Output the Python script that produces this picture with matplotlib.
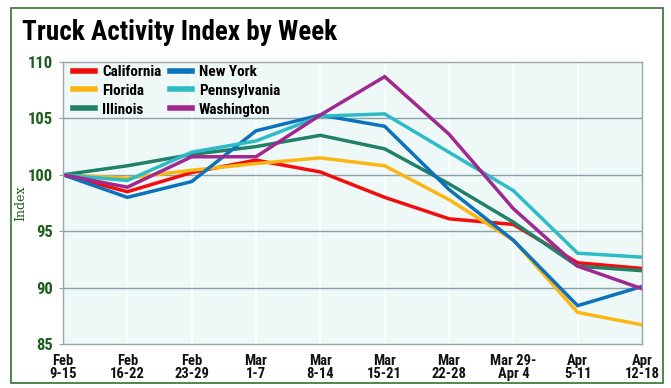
import matplotlib
matplotlib.use('Agg')
import matplotlib.pyplot as plt
from matplotlib.patches import Rectangle

weeks = ['Feb\n9-15', 'Feb\n16-22', 'Feb\n23-29', 'Mar\n1-7', 'Mar\n8-14',
         'Mar\n15-21', 'Mar\n22-28', 'Mar 29-\nApr 4', 'Apr\n5-11', 'Apr\n12-18']

states = ['California', 'Florida', 'Illinois', 'New York', 'Pennsylvania', 'Washington']
colors = ['#f20d0d', '#fbb614', '#218068', '#0b72bb', '#2dbcc6', '#a0288f']

california = [100, 98.5, 100.2, 101.3, 100.25, 98.0, 96.1, 95.6, 92.2, 91.7]
florida = [100, 99.7, 100.4, 101.0, 101.5, 100.8, 97.8, 94.2, 87.8, 86.7]
illinois = [100, 100.8, 101.8, 102.5, 103.5, 102.3, 99.2, 95.8, 91.9, 91.5]
new_york = [100, 98.0, 99.4, 103.9, 105.3, 104.3, 98.7, 94.2, 88.4, 90.1]
pennsylvania = [100, 99.5, 102.0, 103.0, 105.2, 105.4, 102.0, 98.6, 93.05, 92.7]
washington = [100, 98.9, 101.6, 101.6, 105.3, 108.7, 103.6, 97.0, 91.9, 89.9]

series = [california, florida, illinois, new_york, pennsylvania, washington]

yticks = [85, 90, 95, 100, 105, 110]

cond = ['Roboto Condensed', 'DejaVu Sans']
green = '#1d5e1d'

fig = plt.figure(figsize=(6.71, 3.88), dpi=100)
fig.patch.set_facecolor('white')

# outer frame
fig.patches.append(Rectangle((11 / 671, 1 - 383 / 388), 652 / 671, 375 / 388,
                             transform=fig.transFigure, fill=False,
                             edgecolor='#3f7f3f', linewidth=1.3))

ax = fig.add_axes([63 / 671, 1 - 344 / 388, 579 / 671, 282 / 388])
ax.set_facecolor('#eef8f6')

x = list(range(len(weeks)))
for vals, name, c in zip(series, states, colors):
    ax.plot(x, vals, color=c, linewidth=2.5, label=name, solid_joinstyle='miter')

ax.set_xlim(0, len(weeks) - 1)
ax.set_ylim(85, 110)
ax.set_yticks(yticks)
ax.set_xticks(x)
ax.set_xticklabels(weeks, family=cond, fontweight='bold', fontsize=10.5,
                   linespacing=0.9, color='#111111')
ax.set_yticklabels([str(t) for t in yticks], family=cond, fontweight='bold',
                   fontsize=12, color=green)

for t in yticks[1:-1]:
    ax.axhline(t, color='#8aa1aa', linewidth=1.0, zorder=0.5)
for xi in x[1:-1]:
    ax.axvline(xi, color='white', linewidth=1.2, zorder=0.4)

for s in ax.spines.values():
    s.set_color('#9aa6aa')
    s.set_linewidth(1.0)

ax.tick_params(axis='y', length=3, color='#8aa1aa', pad=4)
ax.tick_params(axis='x', length=0, pad=7)

ax.set_ylabel('Index', family='DejaVu Serif', fontsize=9, color=green)
ax.yaxis.set_label_coords(-0.062, 0.5)

leg = ax.legend(ncol=2, loc='upper left', bbox_to_anchor=(0.0, 1.025),
                frameon=False, handlelength=1.45, handletextpad=0.45,
                columnspacing=0.55, labelspacing=0.32, borderaxespad=0.25,
                prop={'family': cond, 'weight': 'bold', 'size': 11})
for line in leg.get_lines():
    line.set_linewidth(4)

fig.text(22 / 671, 1 - 40 / 388, 'Truck Activity Index by Week', family=cond,
         fontweight='bold', fontsize=19.5, color='black', va='baseline', ha='left')

fig.savefig('out.png', dpi=100)
